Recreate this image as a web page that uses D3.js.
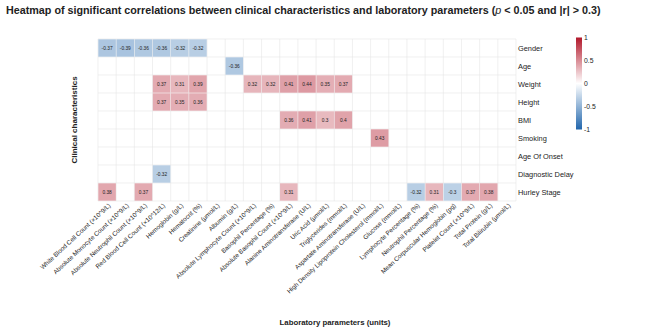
<html>
<head>
<meta charset='utf-8' />
<title>Correlation heatmap</title>
<script src="https://cdn.jsdelivr.net/npm/d3@7"></script>
<style>
	body { margin: 0; background: #fff; }
	text { font-family: "Liberation Sans", Arial, sans-serif; fill: #222; }
	.grid line { stroke: #e6e6e6; stroke-width: 0.6; }
</style>
</head>
<body>
<script>

	// clinical characteristics (rows)
	var rowNames = ["Gender","Age","Weight","Height","BMI","Smoking","Age Of Onset","Diagnostic Delay","Hurley Stage"];

	// laboratory parameters (columns)
	var colNames = ["White Blood Cell Count (×10^9/L)","Absolute Monocyte Count (×10^9/L)","Absolute Neutrophil Count (×10^9/L)",
		"Red Blood Cell Count (×10^12/L)","Hemoglobin (g/L)","Hematocrit (%)","Creatinine (μmol/L)","Albumin (g/L)",
		"Absolute Lymphocyte Count (×10^9/L)","Basophil Percentage (%)","Absolute Basophil Count (×10^9/L)",
		"Alanine Aminotransferase (U/L)","Uric Acid (μmol/L)","Triglycerides (mmol/L)","Aspartate Aminotransferase (U/L)",
		"High Density Lipoprotein Cholesterol (mmol/L)","Glucose (mmol/L)","Lymphocyte Percentage (%)","Neutrophil Percentage (%)",
		"Mean Corpuscular Hemoglobin (pg)","Platelet Count (×10^9/L)","Total Protein (g/L)","Total Bilirubin (μmol/L)"];

	var _ = null;
	var gender   = [-0.37,-0.39,-0.36,-0.36,-0.32,-0.32,_,_,_,_,_,_,_,_,_,_,_,_,_,_,_,_,_];
	var age      = [_,_,_,_,_,_,_,-0.36,_,_,_,_,_,_,_,_,_,_,_,_,_,_,_];
	var weight   = [_,_,_,0.37,0.31,0.39,_,_,0.32,0.32,0.41,0.44,0.35,0.37,_,_,_,_,_,_,_,_,_];
	var height_  = [_,_,_,0.37,0.35,0.36,_,_,_,_,_,_,_,_,_,_,_,_,_,_,_,_,_];
	var bmi      = [_,_,_,_,_,_,_,_,_,_,0.36,0.41,0.3,0.4,_,_,_,_,_,_,_,_,_];
	var smoking  = [_,_,_,_,_,_,_,_,_,_,_,_,_,_,_,0.43,_,_,_,_,_,_,_];
	var onset    = [_,_,_,_,_,_,_,_,_,_,_,_,_,_,_,_,_,_,_,_,_,_,_];
	var delay    = [_,_,_,-0.32,_,_,_,_,_,_,_,_,_,_,_,_,_,_,_,_,_,_,_];
	var hurley   = [0.38,_,0.37,_,_,_,_,_,_,_,0.31,_,_,_,_,_,_,-0.32,0.31,-0.3,0.37,0.38,_];
	var corr = [gender,age,weight,height_,bmi,smoking,onset,delay,hurley];

	var legendTicks = [1,0.5,0,-0.5,-1];

	var W = 669, H = 330;
	var grid = {left: 98, right: 516, top: 39, bottom: 201};

	var svg = d3.select("body").append("svg").attr("width",W).attr("height",H);

	var x = d3.scaleBand().domain(d3.range(colNames.length)).range([grid.left,grid.right]);
	var y = d3.scaleBand().domain(d3.range(rowNames.length)).range([grid.top,grid.bottom]);

	var color = d3.scaleLinear().domain([-1,0,1]).range(["#2166AC","#ffffff","#B2182B"]);

	var cells = [];
	corr.forEach(function(row,i) {
		row.forEach(function(v,j) {
			if(v!=null) cells.push({r:i,c:j,v:v});
		});
	});

	// grid lines
	var g = svg.append("g").attr("class","grid");
	for(var j=0;j<=colNames.length;j++) {
		var xx = j<colNames.length ? x(j) : grid.right;
		g.append("line").attr("x1",xx).attr("x2",xx).attr("y1",grid.top).attr("y2",grid.bottom);
	}
	for(var i=0;i<=rowNames.length;i++) {
		var yy = i<rowNames.length ? y(i) : grid.bottom;
		g.append("line").attr("x1",grid.left).attr("x2",grid.right).attr("y1",yy).attr("y2",yy);
	}

	svg.append("g").selectAll("rect")
		.data(cells).enter()
		.append("rect")
		.attr("x",d=>x(d.c)+0.3)
		.attr("y",d=>y(d.r)+0.3)
		.attr("width",x.bandwidth()-0.6)
		.attr("height",y.bandwidth()-0.6)
		.attr("fill",d=>color(d.v));

	svg.append("g").selectAll("text")
		.data(cells).enter()
		.append("text")
		.attr("x",d=>x(d.c)+x.bandwidth()/2)
		.attr("y",d=>y(d.r)+y.bandwidth()/2)
		.attr("dy","0.35em")
		.attr("text-anchor","middle")
		.attr("font-size","4.8px")
		.text(d=>d.v);

	// row labels on the right
	svg.append("g").selectAll("text")
		.data(rowNames).enter()
		.append("text")
		.attr("x",grid.right+2)
		.attr("y",(d,i)=>y(i)+y.bandwidth()/2)
		.attr("dy","0.35em")
		.attr("font-size","7.4px")
		.attr("fill","#222")
		.text(d=>d);

	// column labels rotated
	svg.append("g").selectAll("text")
		.data(colNames).enter()
		.append("text")
		.attr("text-anchor","end")
		.attr("font-size","6.3px")
		.attr("fill","#333")
		.attr("transform",(d,i)=>`translate(${x(i)+x.bandwidth()/2+4},${grid.bottom+5}) rotate(-43)`)
		.text(d=>d);

	// titles
	svg.append("text")
		.attr("x",6).attr("y",14)
		.attr("font-size","10.75px")
		.attr("font-weight","bold")
		.html("Heatmap of significant correlations between clinical characteristics and laboratory parameters (<tspan font-style='italic' font-weight='normal'>p</tspan> &lt; 0.05 and |r| &gt; 0.3)");

	svg.append("text")
		.attr("x",335).attr("y",325)
		.attr("text-anchor","middle")
		.attr("font-size","7.8px")
		.attr("font-weight","bold")
		.text("Laboratory parameters (units)");

	svg.append("text")
		.attr("transform",`translate(77,${(grid.top+grid.bottom)/2}) rotate(-90)`)
		.attr("text-anchor","middle")
		.attr("font-size","8px")
		.attr("font-weight","bold")
		.text("Clinical characteristics");

	// colour bar
	var lg = svg.append("g");
	var defs = svg.append("defs");
	var grad = defs.append("linearGradient").attr("id","cbar").attr("x1",0).attr("x2",0).attr("y1",0).attr("y2",1);
	[1,0.5,0,-0.5,-1].forEach(function(v,k) {
		grad.append("stop").attr("offset",k*25+"%").attr("stop-color",color(v));
	});
	var ly = d3.scaleLinear().domain([1,-1]).range([37.5,129.5]);
	lg.append("rect").attr("x",576).attr("y",ly(1)).attr("width",6).attr("height",ly(-1)-ly(1))
		.attr("fill","url(#cbar)");
	lg.selectAll("text").data(legendTicks).enter()
		.append("text")
		.attr("x",584)
		.attr("y",d=>ly(d))
		.attr("dy","0.35em")
		.attr("font-size","6.8px")
		.attr("fill","#333")
		.text(d=>d);

</script>
</body>
</html>
